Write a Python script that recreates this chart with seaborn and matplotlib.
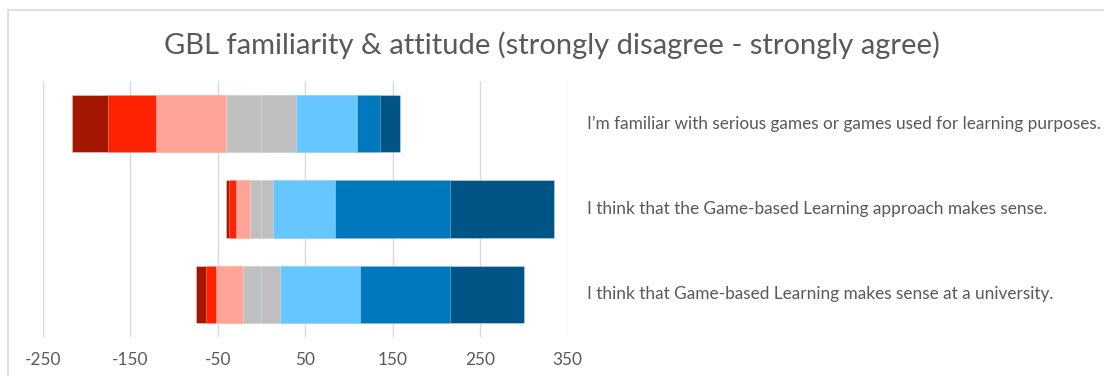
import matplotlib
matplotlib.use("Agg")
import matplotlib.pyplot as plt
import matplotlib.transforms as mtransforms
from matplotlib.patches import Rectangle
import numpy as np
import pandas as pd
import seaborn as sns

# Survey statements and response counts (7-point scale)
statements = [
    "I\u2019m familiar with serious games or games used for learning purposes.",
    "I think that the Game-based Learning approach makes sense.",
    "I think that Game-based Learning makes sense at a university.",
]
strongly_disagree = [41, 4, 11]
disagree = [54, 8, 12]
slightly_disagree = [81, 15, 30]
neutral = [80, 27, 43]
slightly_agree = [69, 71, 91]
agree = [27, 131, 103]
strongly_agree = [23, 119, 85]

x_ticks = [-250, -150, -50, 50, 150, 250, 350]

colors = {
    "sd": "#A31600",
    "d": "#FF2200",
    "sld": "#FFA598",
    "n": "#BFBFBF",
    "sla": "#66C6FF",
    "a": "#0078BE",
    "sa": "#005486",
}

sns.set_theme(style="white")
plt.rcParams["font.family"] = ["Lato", "DejaVu Sans"]
text_color = "#595959"

fig = plt.figure(figsize=(11.04, 3.76), dpi=100)
ax = fig.add_axes([42.7 / 1104, 1 - 337 / 376, (567.5 - 42.7) / 1104, (337 - 81) / 376])

df = pd.DataFrame({
    "statement": statements,
    "sd": strongly_disagree, "d": disagree, "sld": slightly_disagree,
    "n": neutral, "sla": slightly_agree, "a": agree, "sa": strongly_agree,
})
half = df["n"] / 2

# Diverging stack: outermost segments first, inner ones drawn over them
layers = [
    ("sd", -(half + df["sld"] + df["d"] + df["sd"])),
    ("d", -(half + df["sld"] + df["d"])),
    ("sld", -(half + df["sld"])),
    ("n", -half),
    ("sa", half + df["sla"] + df["a"] + df["sa"]),
    ("a", half + df["sla"] + df["a"]),
    ("sla", half + df["sla"]),
    ("n", half),
]
for key, ends in layers:
    sns.barplot(
        x=ends, y=df["statement"], orient="h", color=colors[key],
        width=0.67, saturation=1, edgecolor=(1, 1, 1, 0.35), linewidth=0.6,
        ax=ax,
    )

ax.set_xlim(-250, 350)
ax.set_ylim(2.5, -0.5)
ax.set_xticks(x_ticks)
ax.set_xticklabels([str(t) for t in x_ticks], fontsize=12.4, color=text_color)
ax.tick_params(axis="x", length=0, pad=11)
ax.set_yticks([])
ax.set_xlabel("")
ax.set_ylabel("")
ax.grid(axis="x", color="#D9D9D9", linewidth=1)
ax.set_axisbelow(True)
for s in ax.spines.values():
    s.set_visible(False)

# Statement labels to the right of the bars
trans = mtransforms.blended_transform_factory(fig.transFigure, ax.transData)
for i, s in enumerate(statements):
    ax.text(587 / 1104, i, s, transform=trans, ha="left", va="center",
            fontsize=12.4, color=text_color, clip_on=False)

fig.text(0.5, 1 - 45 / 376, "GBL familiarity & attitude (strongly disagree - strongly agree)",
         ha="center", va="center", fontsize=21, color=text_color)

# Chart frame
fig.patches.append(Rectangle((7.5 / 1104, -0.1), 1.2, 1 - 9.5 / 376 + 0.1,
                             transform=fig.transFigure, fill=False,
                             edgecolor="#D9D9D9", linewidth=1.2))

fig.savefig("out.png", dpi=100)
